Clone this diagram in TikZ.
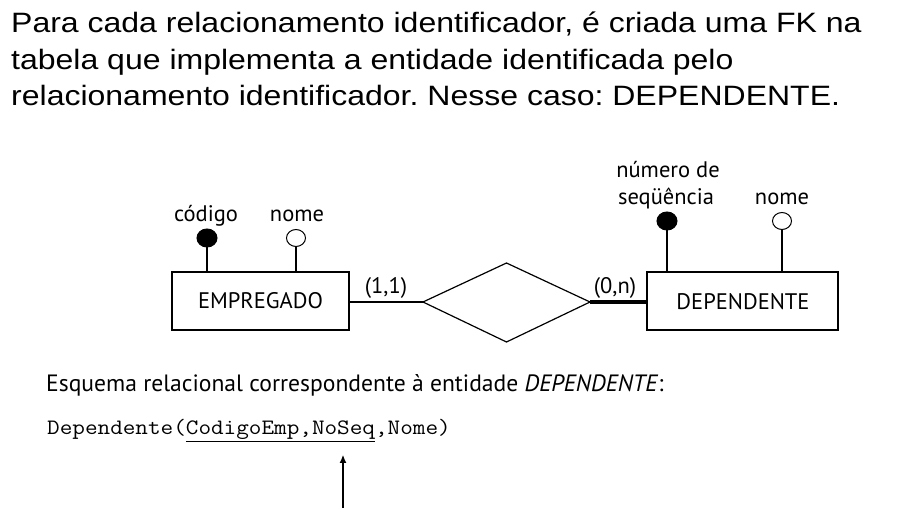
\documentclass[tikz,border=0pt]{standalone}
\usepackage{fontspec}
\usepackage{graphicx}
\setmainfont{Liberation Sans}
\newfontfamily\erfont{PT Sans}
\usetikzlibrary{arrows.meta,shapes.geometric}
\frenchspacing
\begin{document}
\begin{tikzpicture}[x=1pt,y=-1pt,
  titletext/.style={anchor=base west,inner sep=0pt,font=\fontsize{28}{34}\selectfont},
  entity/.style={draw,line width=1.2pt,minimum height=58pt,inner sep=0pt,font=\erfont\fontsize{22.5}{26}\selectfont},
  relbox/.style={draw,line width=1.2pt,inner sep=0pt},
  keyattr/.style={ellipse,fill=black,draw,line width=1pt,minimum width=20pt,minimum height=18pt,inner sep=0pt},
  attr/.style={ellipse,fill=white,draw,line width=1pt,minimum width=19pt,minimum height=17pt,inner sep=0pt},
  lbl/.style={anchor=base,inner sep=0pt,font=\erfont\fontsize{22.5}{27}\selectfont},
  link/.style={line width=1.2pt}
]
\useasboundingbox (0,0) rectangle (906,518);
% title
\node[titletext] (t1) at (11,33) {\scalebox{1.143}[1]{Para cada relacionamento identificador, é criada uma FK na}};
\node[titletext] (t2) at (11,70) {\scalebox{1.143}[1]{tabela que implementa a entidade identificada pelo}};
\node[titletext] (t3) at (11,106) {\scalebox{1.143}[1]{relacionamento identificador. Nesse caso: DEPENDENTE.}};
% entities
\node[entity,minimum width=177pt] (emp) at (260.5,301) {};
\node[lbl] (empt) at (260.5,309) {EMPREGADO};
\node[entity,minimum width=191pt] (dep) at (742.5,301) {};
\node[lbl] (dept) at (743,309.5) {DEPENDENTE};
% relationship diamond
\coordinate (dl) at (423,302);
\coordinate (dr) at (590,302);
\coordinate (dt) at (506.5,263);
\coordinate (db) at (506.5,342);
\draw[relbox] (dl) -- (dt) -- (dr) -- (db) -- cycle;
% connectors
\draw[link] (emp.east |- dl) -- (dl);
\draw[line width=3.8pt] (dr) -- (dep.west |- dr);
\node[lbl] (c11) at (386,294) {(1,1)};
\node[lbl] (c0n) at (615,294) {(0,n)};
% attributes of EMPREGADO
\node[keyattr] (cod) at (207,238) {};
\node[attr] (nm1) at (296,238) {};
\draw[link] (cod) -- (emp.north -| cod);
\draw[link] (nm1) -- (emp.north -| nm1);
\node[lbl] (lcod) at (206,222) {código};
\node[lbl] (lnm1) at (297,222) {nome};
% attributes of DEPENDENTE
\node[keyattr] (seq) at (667,221) {};
\node[attr] (nm2) at (782,221) {};
\draw[link] (seq) -- (dep.north -| seq);
\draw[link] (nm2) -- (dep.north -| nm2);
\node[lbl] (lseq1) at (668,178) {número de};
\node[lbl] (lseq2) at (666,205) {seqüência};
\node[lbl] (lnm2) at (782,205) {nome};
% relational schema
\node[anchor=base west,inner sep=0pt,font=\erfont\fontsize{23.6}{28}\selectfont] (esq) at (46,392) {Esquema relacional correspondente à entidade \textit{DEPENDENTE}:};
\node[anchor=base west,inner sep=0pt,font=\ttfamily\fontsize{22}{24}\selectfont] (sch) at (47,435) {\scalebox{1.113}[1]{Dependente(\underline{CodigoEmp,NoSeq},Nome)}};
\coordinate (abot) at (343,508);
\coordinate (atop) at (343,455);
\draw[line width=1.1pt,-{Latex[length=8pt,width=7pt]}] (abot) -- (atop);
\end{tikzpicture}
\end{document}
